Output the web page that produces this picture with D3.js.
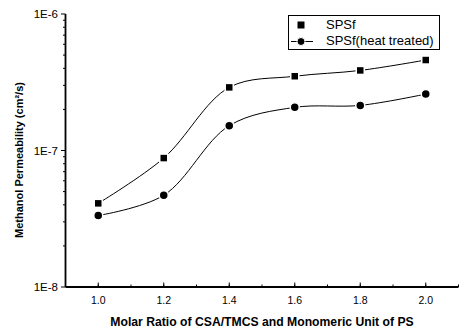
<!DOCTYPE html>
<html>
<head>
    <script src="https://d3js.org/d3.v7.min.js"></script>
    <style>
        body { margin: 0; background: #fff; }
        text { font-family: "Liberation Sans", Arial, sans-serif; fill: #000; }
    </style>
</head>
<body>
    <div id="chart"></div>
    <script>
const ratios = [1.0, 1.2, 1.4, 1.6, 1.8, 2.0];
const spsf = [4.1e-8, 8.8e-8, 2.9e-7, 3.5e-7, 3.86e-7, 4.6e-7];
const spsfHeat = [3.34e-8, 4.7e-8, 1.52e-7, 2.07e-7, 2.14e-7, 2.59e-7];
const xTicks = [1.0, 1.2, 1.4, 1.6, 1.8, 2.0];
const yTicks = [1e-8, 1e-7, 1e-6];
const yTickLabels = ['1E-8', '1E-7', '1E-6'];
const seriesNames = ['SPSf', 'SPSf(heat treated)'];

const width = 459;
const height = 331;

const svg = d3.select('#chart')
    .append('svg')
    .attr('width', width)
    .attr('height', height);

const x = d3.scaleLinear().domain([0.9, 2.1]).range([65.5, 458.5]);
const y = d3.scaleLog().domain([1e-8, 1e-6]).range([287, 14]);

// x axis: ticks pointing up into the plot
const xAxis = svg.append('g');
xAxis.append('line')
    .attr('x1', x(0.9)).attr('x2', x(2.1))
    .attr('y1', y(1e-8)).attr('y2', y(1e-8))
    .attr('stroke', '#000').attr('stroke-width', 1.8);
const xMinor = d3.range(0.9, 2.11, 0.1);
xAxis.selectAll('.minor')
    .data(xMinor)
    .enter()
    .append('line')
    .attr('x1', d => x(d)).attr('x2', d => x(d))
    .attr('y1', y(1e-8)).attr('y2', y(1e-8) - 2.5)
    .attr('stroke', '#000');
xAxis.selectAll('.major')
    .data(xTicks)
    .enter()
    .append('line')
    .attr('x1', d => x(d)).attr('x2', d => x(d))
    .attr('y1', y(1e-8)).attr('y2', y(1e-8) - 4.5)
    .attr('stroke', '#000');
xAxis.selectAll('text')
    .data(xTicks)
    .enter()
    .append('text')
    .attr('x', d => x(d))
    .attr('y', 304)
    .attr('text-anchor', 'middle')
    .attr('font-size', 10.5)
    .text(d => d.toFixed(1));

// y axis: ticks pointing left
const yAxis = svg.append('g');
yAxis.append('line')
    .attr('x1', 65.5).attr('x2', 65.5)
    .attr('y1', y(1e-6)).attr('y2', y(1e-8))
    .attr('stroke', '#000').attr('stroke-width', 1.8);
const yMinor = [];
[1e-8, 1e-7].forEach(base => {
    for (let k = 2; k <= 9; k++) yMinor.push(base * k);
});
yAxis.selectAll('.minor')
    .data(yMinor)
    .enter()
    .append('line')
    .attr('x1', 65.5).attr('x2', 63)
    .attr('y1', d => y(d)).attr('y2', d => y(d))
    .attr('stroke', '#000');
yAxis.selectAll('.major')
    .data(yTicks)
    .enter()
    .append('line')
    .attr('x1', 65.5).attr('x2', 61)
    .attr('y1', d => y(d)).attr('y2', d => y(d))
    .attr('stroke', '#000');
yAxis.selectAll('text')
    .data(yTicks)
    .enter()
    .append('text')
    .attr('x', 58)
    .attr('y', d => y(d) + 4)
    .attr('text-anchor', 'end')
    .attr('font-size', 11.5)
    .text((d, i) => yTickLabels[i]);

// axis titles
svg.append('text')
    .attr('x', 262)
    .attr('y', 326)
    .attr('text-anchor', 'middle')
    .attr('font-size', 12.2)
    .attr('font-weight', 'bold')
    .text('Molar Ratio of CSA/TMCS and Monomeric Unit of PS');

svg.append('text')
    .attr('transform', 'translate(23,160) rotate(-90)')
    .attr('text-anchor', 'middle')
    .attr('font-size', 11)
    .attr('font-weight', 'bold')
    .text('Methanol Permeability (cm²/s)');

// lines
const line = d3.line()
    .x(d => x(d[0]))
    .y(d => y(d[1]))
    .curve(d3.curveCatmullRom.alpha(0.5));

const series = [spsf, spsfHeat];
series.forEach(vals => {
    svg.append('path')
        .datum(ratios.map((r, i) => [r, vals[i]]))
        .attr('d', line)
        .attr('fill', 'none')
        .attr('stroke', '#000')
        .attr('stroke-width', 1);
});

// markers
svg.selectAll('.sq')
    .data(ratios)
    .enter()
    .append('rect')
    .attr('x', (d, i) => x(d) - 4)
    .attr('y', (d, i) => y(spsf[i]) - 4)
    .attr('width', 8)
    .attr('height', 8)
    .attr('fill', '#000')
    .attr('stroke', '#fff')
    .attr('stroke-width', 1.5);

svg.selectAll('.ci')
    .data(ratios)
    .enter()
    .append('circle')
    .attr('cx', d => x(d))
    .attr('cy', (d, i) => y(spsfHeat[i]))
    .attr('r', 4.5)
    .attr('fill', '#000')
    .attr('stroke', '#fff')
    .attr('stroke-width', 1.5);

// legend
const legend = svg.append('g');
legend.append('rect')
    .attr('x', 288.5).attr('y', 15.5)
    .attr('width', 151).attr('height', 34)
    .attr('fill', '#fff')
    .attr('stroke', '#000')
    .attr('stroke-width', 1);
legend.append('line')
    .attr('x1', 291).attr('x2', 313)
    .attr('y1', 41.5).attr('y2', 41.5)
    .attr('stroke', '#000');
legend.append('rect')
    .attr('x', 297.5).attr('y', 21.5).attr('width', 7).attr('height', 7)
    .attr('fill', '#000');
legend.append('circle')
    .attr('cx', 301).attr('cy', 41.5).attr('r', 4)
    .attr('fill', '#000')
    .attr('stroke', '#fff').attr('stroke-width', 1);
legend.selectAll('text')
    .data(seriesNames)
    .enter()
    .append('text')
    .attr('x', 326)
    .attr('y', (d, i) => 29 + i * 16)
    .attr('font-size', 13)
    .text(d => d);
    </script>
</body>
</html>
